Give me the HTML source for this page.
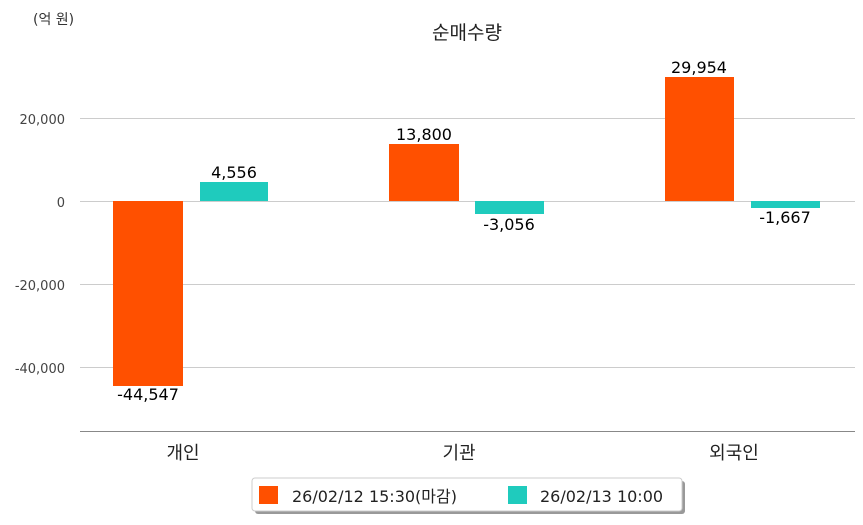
<!DOCTYPE html>
<html><head><meta charset="utf-8"><style>
body{margin:0;background:#fff;}
</style></head><body>
<svg width="863" height="520" xmlns="http://www.w3.org/2000/svg" style="font-family:'DejaVu Sans','Noto Sans CJK KR',sans-serif">
<rect width="863" height="520" fill="#fff"/>
<text x="33" y="24" font-size="14" fill="#333">(억 원)</text>
<text x="467" y="39" font-size="19" fill="#222" text-anchor="middle">순매수량</text>
<g stroke="#ccc" stroke-width="1">
<line x1="80" y1="118.5" x2="855" y2="118.5"/>
<line x1="80" y1="201.5" x2="855" y2="201.5"/>
<line x1="80" y1="284.5" x2="855" y2="284.5"/>
<line x1="80" y1="367.5" x2="855" y2="367.5"/>
</g>
<line x1="80" y1="431.5" x2="855" y2="431.5" stroke="#888" stroke-width="1"/>
<g font-size="13" fill="#444" text-anchor="end">
<text x="65" y="124">20,000</text>
<text x="65" y="207">0</text>
<text x="65" y="290">-20,000</text>
<text x="65" y="373">-40,000</text>
</g>
<g fill="#ff5000">
<rect x="113" y="201" width="70" height="185"/>
<rect x="389" y="144" width="70" height="57"/>
<rect x="665" y="77" width="69" height="124"/>
</g>
<g fill="#1fcbbd">
<rect x="200" y="182" width="68" height="19"/>
<rect x="475" y="201" width="69" height="13"/>
<rect x="751" y="201" width="69" height="7"/>
</g>
<g font-size="16" fill="#000" text-anchor="middle">
<text x="148" y="400">-44,547</text>
<text x="234" y="178">4,556</text>
<text x="424" y="140">13,800</text>
<text x="509" y="230">-3,056</text>
<text x="699" y="73">29,954</text>
<text x="785" y="223">-1,667</text>
</g>
<g font-size="18" fill="#222" text-anchor="middle">
<text x="183" y="459">개인</text>
<text x="459" y="459">기관</text>
<text x="734" y="459">외국인</text>
</g>
<rect x="255" y="481" width="430" height="33" rx="3" fill="#999"/>
<rect x="252" y="478" width="430" height="33" rx="3" fill="#fff" stroke="#ccc"/>
<rect x="259" y="486" width="19" height="18" fill="#ff5000"/>
<text x="292" y="502" font-size="16" fill="#222">26/02/12 15:30(마감)</text>
<rect x="508" y="486" width="19" height="18" fill="#1fcbbd"/>
<text x="540" y="502" font-size="16" fill="#222">26/02/13 10:00</text>
</svg>
</body></html>
